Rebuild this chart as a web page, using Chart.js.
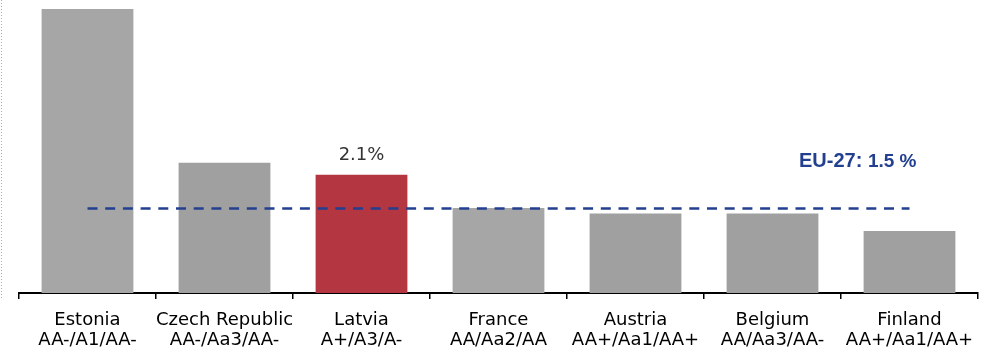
<!DOCTYPE html>
<html>
<head>
<meta charset="utf-8">
<script src="https://cdn.jsdelivr.net/npm/chart.js@4.4.1/dist/chart.umd.min.js"></script>
<style>
  html, body { margin: 0; padding: 0; background: #fff; }
  #wrap { position: relative; width: 992px; height: 352px; }
</style>
</head>
<body>
<div id="wrap"><canvas id="c" width="992" height="352"></canvas></div>
<script>
// Countries and their sovereign ratings (S&P / Moody's / Fitch)
const countries = ['Estonia', 'Czech Republic', 'Latvia', 'France', 'Austria', 'Belgium', 'Finland'];
const ratings = ['AA-/A1/AA-', 'AA-/Aa3/AA-', 'A+/A3/A-', 'AA/Aa2/AA', 'AA+/Aa1/AA+', 'AA/Aa3/AA-', 'AA+/Aa1/AA+'];
// Values in percent
const values = [5.04, 2.31, 2.1, 1.51, 1.41, 1.41, 1.10];
const euAverage = 1.5;
const euLabel = 'EU-27:';
const highlighted = 'Latvia';

const barColors = countries.map((c, i) => c === highlighted ? '#b33640' : (i === 0 || i === 3 ? '#a6a6a6' : '#a0a0a0'));

const overlay = {
  id: 'overlay',
  afterDraw(chart) {
    const ctx = chart.ctx;
    const x = chart.scales.x, y = chart.scales.y;
    ctx.save();
    // dotted left border
    ctx.strokeStyle = '#b0b0b0';
    ctx.lineWidth = 1;
    ctx.setLineDash([1, 2]);
    ctx.beginPath();
    ctx.moveTo(1.5, 0);
    ctx.lineTo(1.5, 298);
    ctx.stroke();
    ctx.setLineDash([]);

    // value label above highlighted bar
    const hi = countries.indexOf(highlighted);
    const v = values[hi];
    ctx.fillStyle = '#333333';
    ctx.font = '18px "DejaVu Sans"';
    ctx.textAlign = 'center';
    ctx.textBaseline = 'alphabetic';
    ctx.fillText(v.toFixed(1) + '%', x.getPixelForValue(hi), y.getPixelForValue(v) - 15);

    // EU-27 average label
    ctx.fillStyle = '#233f8f';
    ctx.textAlign = 'left';
    const ly = y.getPixelForValue(euAverage) - 41;
    ctx.font = 'bold 20px "Liberation Sans"';
    const lx = 799;
    ctx.fillText(euLabel, lx, ly);
    const w = ctx.measureText(euLabel + ' ').width;
    ctx.font = 'bold 19px "Liberation Sans"';
    ctx.fillText(euAverage.toFixed(1) + ' %', lx + w, ly);
    ctx.restore();
  }
};

new Chart(document.getElementById('c'), {
  data: {
    labels: countries.map((c, i) => [c, ratings[i]]),
    datasets: [
      {
        type: 'line',
        data: countries.map(() => euAverage),
        borderColor: '#233f8f',
        borderWidth: 2.5,
        borderDash: [10, 7.7],
        pointRadius: 0,
        fill: false,
        order: 0
      },
      {
        type: 'bar',
        data: values,
        backgroundColor: barColors,
        categoryPercentage: 1,
        barPercentage: 0.67,
        order: 1
      }
    ]
  },
  options: {
    responsive: false,
    animation: false,
    layout: { padding: { left: 19, right: 14, top: 0, bottom: 0 } },
    plugins: { legend: { display: false }, tooltip: { enabled: false } },
    scales: {
      x: {
        offset: true,
        afterFit(scale) { scale.height = 59; },
        grid: { offset: true, drawOnChartArea: false, drawTicks: true, tickLength: 6, color: '#000', lineWidth: 1.5 },
        border: { display: true, color: '#000', width: 2 },
        ticks: {
          color: '#000',
          font: { family: '"DejaVu Sans"', size: 18, lineHeight: 1.111 },
          padding: 11,
          maxRotation: 0,
          autoSkip: false
        }
      },
      y: {
        display: false,
        min: 0,
        max: 5.2
      }
    }
  },
  plugins: [overlay]
});
</script>
</body>
</html>
